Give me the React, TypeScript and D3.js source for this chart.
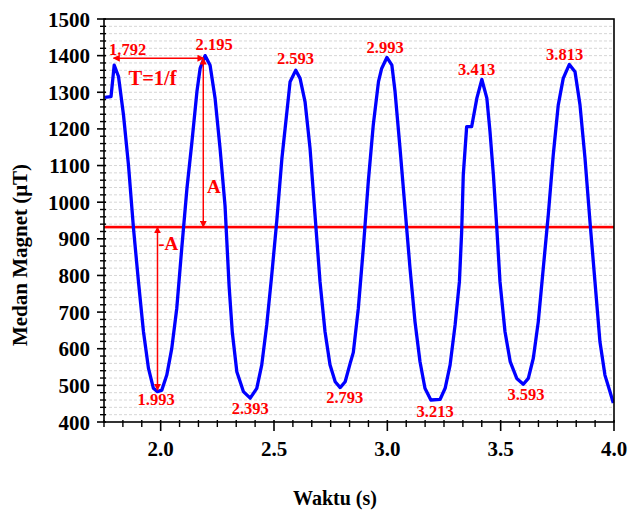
import React from "react";
import * as d3 from "d3";

// ---- data ----
const times: number[] = [
  1.752, 1.781, 1.795, 1.814, 1.836, 1.858, 1.88, 1.902, 1.924, 1.946, 1.968, 1.986,
  2.005, 2.027, 2.049, 2.071, 2.093, 2.116, 2.138, 2.16, 2.174, 2.196, 2.218, 2.24,
  2.262, 2.284, 2.302, 2.316, 2.336, 2.365, 2.395, 2.424, 2.446, 2.468, 2.49, 2.512,
  2.535, 2.557, 2.571, 2.596, 2.615, 2.637, 2.659, 2.681, 2.703, 2.725, 2.747, 2.77,
  2.792, 2.814, 2.836, 2.85, 2.872, 2.894, 2.916, 2.938, 2.961, 2.975, 2.998, 3.02,
  3.034, 3.056, 3.078, 3.1, 3.122, 3.144, 3.166, 3.192, 3.233, 3.255, 3.277, 3.299,
  3.318, 3.328, 3.335, 3.35, 3.372, 3.395, 3.417, 3.439, 3.453, 3.468, 3.483, 3.497,
  3.519, 3.542, 3.571, 3.6, 3.622, 3.644, 3.666, 3.688, 3.71, 3.732, 3.754, 3.776,
  3.803, 3.828, 3.85, 3.872, 3.894, 3.916, 3.938, 3.96, 3.982, 3.997,
];
const fieldValues: number[] = [
  1286, 1288, 1374, 1343, 1238, 1101, 929, 783, 647, 547, 492, 483,
  487, 528, 601, 710, 874, 1038, 1165, 1302, 1365, 1400, 1374, 1284,
  1147, 990, 770, 645, 537, 483, 465, 492, 556, 665, 801, 947,
  1120, 1247, 1329, 1360, 1338, 1274, 1147, 965, 783, 647, 556, 510,
  494, 510, 560, 590, 710, 874, 1056, 1211, 1329, 1365, 1395, 1374,
  1302, 1147, 983, 820, 674, 565, 492, 460, 462, 492, 556, 665,
  783, 920, 1074, 1206, 1206, 1284, 1335, 1284, 1192, 1074, 929, 783,
  647, 565, 519, 503, 519, 574, 674, 820, 965, 1129, 1265, 1338,
  1376, 1356, 1265, 1120, 947, 783, 619, 528, 483, 452,
];
const meanValue = 932;

const xTicks: number[] = [2.0, 2.5, 3.0, 3.5, 4.0];
const yTicks: number[] = [400, 500, 600, 700, 800, 900, 1000, 1100, 1200, 1300, 1400, 1500];

// peak / trough labels: text, anchor time, anchor value
const pointLabels: string[] = ["1.792", "2.195", "2.593", "2.993", "3.413", "3.813", "1.993", "2.393", "2.793", "3.213", "3.593"];
const labelTimes: number[] = [1.854, 2.236, 2.595, 2.99, 3.394, 3.782, 1.98, 2.395, 2.812, 3.211, 3.612];
const labelValues: number[] = [1402, 1415, 1376, 1406, 1347, 1388, 447, 422, 453, 415, 460];

const W = 629;
const H = 512;
const M = { left: 104, right: 614, top: 19, bottom: 422 };
const FONT = "'Liberation Serif', 'Times New Roman', serif";

export default function App() {
  const x = d3.scaleLinear().domain([1.75, 4.0]).range([M.left, M.right]);
  const y = d3.scaleLinear().domain([400, 1500]).range([M.bottom, M.top]);

  const pts = times.map((t, i) => [t, fieldValues[i]] as [number, number]);
  const line = d3
    .line<[number, number]>()
    .x((d) => x(d[0]))
    .y((d) => y(d[1]))
    .curve(d3.curveLinear);

  const gridVals = d3.range(420, 1500, 20);
  const yMinor = d3.range(400, 1501, 20).filter((v) => v % 100 !== 0);
  const xMinor = d3
    .range(0, 28)
    .map((k) => 1.75 + k * (0.5 / 6))
    .filter((v) => v <= 4.0001 && Math.abs((v - 2) * 2 - Math.round((v - 2) * 2)) > 1e-6);

  const red = "#ff0000";

  return (
    <svg width={W} height={H} style={{ position: "absolute", left: 0, top: 0, background: "#fff" }} fontFamily={FONT}>
      <defs>
        <marker id="ah" viewBox="0 0 10 10" refX="9" refY="5" markerWidth="7" markerHeight="7" orient="auto-start-reverse" markerUnits="userSpaceOnUse">
          <path d="M0,0 L10,5 L0,10 z" fill={red} />
        </marker>
        <clipPath id="clip">
          <rect x={M.left} y={M.top} width={M.right - M.left} height={M.bottom - M.top} />
        </clipPath>
      </defs>

      {/* gridlines */}
      {gridVals.map((v) => (
        <line key={"g" + v} x1={M.left} x2={M.right} y1={y(v)} y2={y(v)} stroke="#d6d6d6" strokeWidth={1} strokeDasharray="3,2" />
      ))}

      {/* mean line */}
      <line x1={M.left} x2={M.right} y1={y(meanValue)} y2={y(meanValue)} stroke="#ff9a9a" strokeWidth={4} opacity={0.5} />
      <line x1={M.left} x2={M.right} y1={y(meanValue)} y2={y(meanValue)} stroke={red} strokeWidth={2.4} />

      {/* signal */}
      <path d={line(pts) || ""} fill="none" stroke="#0000ff" strokeWidth={3.3} strokeLinejoin="round" clipPath="url(#clip)" />

      {/* annotation arrows */}
      <line x1={x(1.792)} x2={x(2.19)} y1={y(1393)} y2={y(1393)} stroke={red} strokeWidth={1.5} markerStart="url(#ah)" markerEnd="url(#ah)" />
      <line x1={x(2.188)} x2={x(2.188)} y1={y(1393)} y2={y(meanValue)} stroke={red} strokeWidth={1.5} markerStart="url(#ah)" markerEnd="url(#ah)" />
      <line x1={x(1.986)} x2={x(1.986)} y1={y(meanValue)} y2={y(487)} stroke={red} strokeWidth={1.5} markerStart="url(#ah)" markerEnd="url(#ah)" />

      {/* annotation texts */}
      <text x={x(1.858)} y={y(1320)} fill={red} fontWeight="bold" fontSize={20.5}>T=1/f</text>
      <text x={x(2.204)} y={y(1024)} fill={red} fontWeight="bold" fontSize={19}>A</text>
      <text x={x(1.989)} y={y(870)} fill={red} fontWeight="bold" fontSize={19}>-A</text>

      {pointLabels.map((s, i) => (
        <text key={"l" + i} x={x(labelTimes[i])} y={y(labelValues[i])} textAnchor="middle" fill={red} fontWeight="bold" fontSize={16.5}>
          {s}
        </text>
      ))}

      {/* frame */}
      <rect x={M.left} y={M.top} width={M.right - M.left} height={M.bottom - M.top} fill="none" stroke="#000" strokeWidth={1.6} />

      {/* y axis ticks */}
      {yTicks.map((v) => (
        <g key={"yt" + v}>
          <line x1={M.left - 7} x2={M.left + 2} y1={y(v)} y2={y(v)} stroke="#000" strokeWidth={1.6} />
          <text x={M.left - 14} y={y(v)} dy="0.36em" textAnchor="end" fontWeight="bold" fontSize={21} fill="#000">
            {v}
          </text>
        </g>
      ))}
      {yMinor.map((v) => (
        <line key={"ym" + v} x1={M.left - 4} x2={M.left + 2} y1={y(v)} y2={y(v)} stroke="#000" strokeWidth={1.4} />
      ))}

      {/* x axis ticks */}
      {xTicks.map((v) => (
        <g key={"xt" + v}>
          <line x1={x(v)} x2={x(v)} y1={M.bottom - 2} y2={M.bottom + 9} stroke="#000" strokeWidth={1.6} />
          <text x={x(v)} y={456} textAnchor="middle" fontWeight="bold" fontSize={21} fill="#000">
            {v.toFixed(1)}
          </text>
        </g>
      ))}
      {xMinor.map((v, i) => (
        <line key={"xm" + i} x1={x(v)} x2={x(v)} y1={M.bottom - 2} y2={M.bottom + 5} stroke="#000" strokeWidth={1.4} />
      ))}

      {/* axis titles */}
      <text x={335} y={505} textAnchor="middle" fontWeight="bold" fontSize={20} fill="#000">
        Waktu (s)
      </text>
      <text transform={`translate(27, 255) rotate(-90)`} textAnchor="middle" fontWeight="bold" fontSize={21} fill="#000">
        Medan Magnet (μT)
      </text>
    </svg>
  );
}
